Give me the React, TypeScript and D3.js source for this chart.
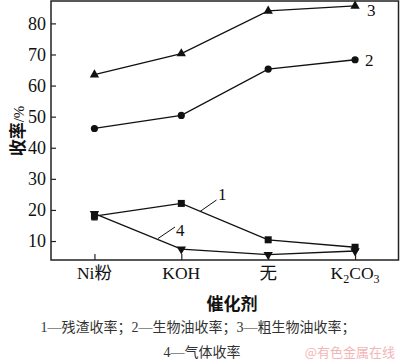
import React, { useRef, useEffect } from 'react';
import * as d3 from 'd3';

// catalysts on the x axis
const catalysts = ['Ni粉', 'KOH', '无', 'K2CO3'];
// yields in %
const residueYield = [18.0, 22.1, 10.4, 8.0];     // 1
const bioOilYield = [46.2, 50.4, 65.3, 68.3];     // 2
const crudeOilYield = [63.5, 70.3, 84.0, 85.6];   // 3
const gasYield = [18.8, 7.4, 5.6, 6.8];           // 4
const yTicks = [10, 20, 30, 40, 50, 60, 70, 80];

const serif = '"Liberation Serif", "Times New Roman", serif';
const cjk = '"Liberation Serif", "Noto Sans CJK SC", serif';

export default function App() {
  const svgRef = useRef<SVGSVGElement>(null);

  useEffect(() => {
    if (!svgRef.current) return;
    const width = 400;
    const height = 363;
    const svg = d3.select(svgRef.current).attr('width', width).attr('height', height);
    svg.selectAll('*').remove();

    const m = { left: 51, right: 1.5, top: 1, bottom: 103 };
    const x = d3.scalePoint<string>().domain(catalysts).range([m.left, width - m.right]).padding(0.5);
    const y = d3.scaleLinear().domain([3.9, 87.2]).range([height - m.bottom, m.top]);

    //axes, ticks pointing inwards
    const yAxis = d3.axisLeft(y).tickValues(yTicks).tickSizeInner(-5).tickSizeOuter(0).tickPadding(5);
    const gy = svg.append('g').attr('transform', `translate(${m.left},0)`).call(yAxis);
    gy.select('.domain').remove();
    gy.selectAll('line').attr('stroke', '#222').attr('stroke-width', 1.2);
    gy.selectAll('text').attr('font-family', serif).attr('font-size', 18).attr('fill', '#111');

    const xAxis = d3.axisBottom(x).tickSizeInner(-6).tickSizeOuter(0).tickFormat(() => '');
    const gx = svg.append('g').attr('transform', `translate(0,${height - m.bottom})`).call(xAxis);
    gx.select('.domain').remove();
    gx.selectAll('line').attr('stroke', '#222').attr('stroke-width', 1.2);

    //x labels, with subscripts for the formula
    catalysts.forEach(c => {
      const t = svg.append('text')
        .attr('x', x(c)!)
        .attr('y', height - m.bottom + 19)
        .attr('text-anchor', 'middle')
        .attr('font-family', cjk)
        .attr('font-size', 17.5)
        .attr('fill', '#111');
      const parts = c.match(/[A-Za-z\u4e00-\u9fff]+|\d+/g) || [c];
      parts.forEach(p => {
        if (/^\d+$/.test(p)) {
          t.append('tspan').attr('font-size', 12).attr('dy', 4).text(p);
        } else {
          const prevSub = t.selectAll('tspan').size() > 0 && /^\d+$/.test(t.select('tspan:last-child').text());
          t.append('tspan').attr('dy', prevSub ? -4 : 0).text(p);
        }
      });
    });

    //frame
    svg.append('rect')
      .attr('x', m.left).attr('y', m.top)
      .attr('width', width - m.left - m.right).attr('height', height - m.bottom - m.top)
      .attr('fill', 'none').attr('stroke', '#222').attr('stroke-width', 1.5);

    //lines
    const line = d3.line<number>().x((_, i) => x(catalysts[i])!).y(d => y(d));
    const series = [residueYield, bioOilYield, crudeOilYield, gasYield];
    series.forEach(s => {
      svg.append('path').datum(s)
        .attr('fill', 'none').attr('stroke', '#111').attr('stroke-width', 1.3)
        .attr('d', line);
    });

    //markers
    const tri = d3.symbol().type(d3.symbolTriangle).size(38);
    svg.selectAll('.m3').data(crudeOilYield).join('path')
      .attr('transform', (d, i) => `translate(${x(catalysts[i])},${y(d)})`)
      .attr('d', tri).attr('fill', '#111');
    svg.selectAll('.m4').data(gasYield).join('path')
      .attr('transform', (d, i) => `translate(${x(catalysts[i])},${y(d)}) rotate(180)`)
      .attr('d', tri).attr('fill', '#111');
    svg.selectAll('.m2').data(bioOilYield).join('circle')
      .attr('cx', (_, i) => x(catalysts[i])!).attr('cy', d => y(d))
      .attr('r', 3.6).attr('fill', '#111');
    svg.selectAll('.m1').data(residueYield).join('rect')
      .attr('x', (_, i) => x(catalysts[i])! - 3.5).attr('y', d => y(d) - 3.5)
      .attr('width', 7).attr('height', 7).attr('fill', '#111');

    //small error bar at Ni
    const ex = x(catalysts[0])!;
    svg.append('path')
      .attr('d', `M${ex - 3},${y(19.4)}H${ex + 3}M${ex},${y(19.4)}V${y(16.8)}M${ex - 3},${y(16.8)}H${ex + 3}`)
      .attr('stroke', '#111').attr('stroke-width', 1.2).attr('fill', 'none');

    //series numbers
    const lab = (t: string, lx: number, ly: number) =>
      svg.append('text').attr('x', lx).attr('y', ly).attr('font-family', serif)
        .attr('font-size', 17).attr('fill', '#111').text(t);
    lab('3', x(catalysts[3])! + 12, y(crudeOilYield[3]) + 10);
    lab('2', x(catalysts[3])! + 10, y(bioOilYield[3]) + 6);
    lab('1', 218, 200);
    lab('4', 176, 236);
    svg.append('path').attr('d', 'M200,211.5L216.5,200').attr('stroke', '#111').attr('stroke-width', 1);
    svg.append('path').attr('d', 'M158,238.5L175,227').attr('stroke', '#111').attr('stroke-width', 1);

    //axis titles
    svg.append('text')
      .attr('transform', `translate(24,131) rotate(-90)`)
      .attr('text-anchor', 'middle')
      .attr('font-family', cjk).attr('font-size', 17).attr('font-weight', 'bold').attr('fill', '#111')
      .call(t => {
        t.append('tspan').text('收率');
        t.append('tspan').attr('font-weight', 'normal').attr('font-size', 15).text('/%');
      });
    svg.append('text')
      .attr('x', 232).attr('y', 310).attr('text-anchor', 'middle')
      .attr('font-family', cjk).attr('font-size', 17).attr('font-weight', 'bold').attr('fill', '#111')
      .text('催化剂');

    //caption
    svg.append('text')
      .attr('x', 198).attr('y', 332).attr('text-anchor', 'middle')
      .attr('font-family', cjk).attr('font-size', 14).attr('fill', '#333')
      .text('1—残渣收率；2—生物油收率；3—粗生物油收率；');
    svg.append('text')
      .attr('x', 202).attr('y', 357).attr('text-anchor', 'middle')
      .attr('font-family', cjk).attr('font-size', 14).attr('fill', '#333')
      .text('4—气体收率');

    //watermark
    svg.append('text')
      .attr('x', 395).attr('y', 357).attr('text-anchor', 'end')
      .attr('font-family', '"Noto Sans CJK SC", sans-serif').attr('font-size', 13).attr('fill', '#f2b6b6')
      .text('@有色金属在线');
  }, []);

  return (
    <svg ref={svgRef} style={{ position: 'absolute', left: 0, top: 0, background: '#fff' }} />
  );
}
